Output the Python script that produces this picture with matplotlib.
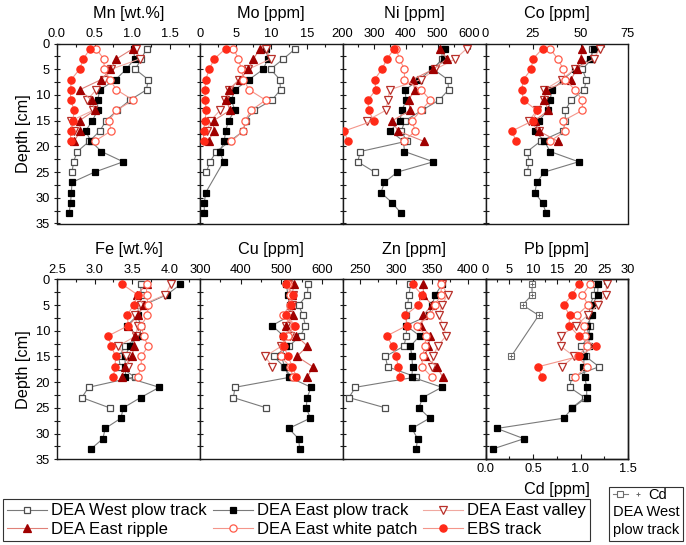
import numpy as np
import matplotlib
matplotlib.use("Agg")
import matplotlib.pyplot as plt
from matplotlib.patches import Rectangle
from matplotlib.legend_handler import HandlerTuple
from matplotlib.ticker import MultipleLocator, FormatStrFormatter

plt.rcParams['font.family'] = ['Liberation Sans', 'DejaVu Sans']

nan = np.nan
depth = [1, 3, 5, 7, 9, 11, 13, 15, 17, 19, 21, 23, 25, 27, 29, 31, 33]

# Mn [wt.%]
mn_west = [1.19, 1.12, 1.04, 1.21, 1.19, 0.97, 0.80, 0.65, 0.57, 0.43, 0.27, 0.22, 0.20]
mn_east = [1.02, 1.03, 0.92, 0.78, 0.57, 0.54, 0.54, 0.47, 0.38, 0.45, 0.59, 0.88, 0.50, 0.20, 0.19, 0.18, 0.16]
mn_valley = [1.05, 1.10, 0.72, 0.62, 0.52, 0.40, 0.48, 0.19, 0.22]
mn_ripple = [1.01, 0.79, 0.71, 0.59, 0.30, 0.46, 0.50, 0.30, 0.31, 0.23]
mn_white = [0.52, 0.62, 0.63, 0.70, 0.79, 1.01, 0.79, 0.69, 0.72, 0.50]
mn_ebs = [0.44, 0.35, 0.30, 0.19, 0.18, 0.18, 0.23, 0.21, 0.18, 0.18]

# Mo [ppm]
mo_west = [13.4, 11.7, 9.9, 11.2, 11.3, 10.1, 7.6, 6.4, 6.1, 4.2, 2.3, 1.4, 0.9]
mo_east = [9.3, 9.5, 8.9, 6.9, 4.9, 4.4, 4.9, 4.0, 3.6, 3.4, 2.8, 3.3, nan, nan, 0.8, 0.6, 0.6]
mo_valley = [9.3, 9.9, 6.8, 5.5, 4.0, 3.5, 2.8, 1.5, 1.0]
mo_ripple = [8.4, 7.5, 6.8, 5.6, 4.1, 3.7, 4.2, 1.9, 1.9, 1.2]
mo_white = [4.7, 5.4, 5.8, 6.1, 6.9, 9.2, 7.2, 6.3, 6.1, 4.4]
mo_ebs = [3.6, 2.0, 1.3, 0.8, 0.7, 0.7, 0.9, 0.7, 0.5, 0.5]

# Ni [ppm]
ni_west = [513, 513, 486, 531, 534, 504, 450, 397, 385, 402, 256, 248, 301]
ni_east = [523, 518, 481, 442, 397, 400, 387, 381, 350, 392, 395, 486, 373, 332, 321, 357, 384]
ni_valley = [591, 555, 492, 448, 348, 343, 336, 277, nan]
ni_ripple = [507, 528, 486, 421, 427, 408, 413, 357, 374, 455]
ni_white = [369, 379, 395, 395, 448, 476, 448, 418, 429, 394]
ni_ebs = [363, 340, 324, 301, 305, 280, 282, 298, 206, 216]

# Co [ppm]
co_west = [56, 56, 51, 53, 52, 45, 42, 42, 41, 29, 22, 23, 22]
co_east = [57, 55, 47, 41, 35, 34, 33, 28, 26, 31, 34, 49, 31, 27, 26, 30, 32]
co_valley = [60, 57, 47, 40, 31, 31, 27, 23, 28]
co_ripple = [51, 50, 48, 45, 32, 31, 33, 26, 28, 38]
co_white = [34, 38, 41, 42, 47, 51, 51, 41, 42, 34]
co_ebs = [30, 25, 24, 20, 19, 20, 27, 25, 14, 16]

# Fe [wt.%]
fe_west = [3.61, 3.62, 3.60, 3.56, 3.62, 3.60, 3.41, 3.32, 3.34, 3.53, 2.92, 2.83, 3.20]
fe_east = [4.14, 3.96, 3.65, 3.57, 3.43, 3.57, 3.47, 3.40, 3.41, 3.41, 3.86, 3.61, 3.38, 3.35, 3.14, 3.11, 2.95]
fe_valley = [4.01, 3.94, 3.62, 3.53, 3.57, 3.55, 3.31, 3.42, 3.45]
fe_ripple = [3.69, 3.56, 3.65, 3.58, 3.45, 3.54, 3.52, 3.50, 3.41, 3.36]
fe_white = [3.69, 3.69, 3.71, 3.70, 3.62, 3.65, 3.71, 3.62, 3.62, 3.57]
fe_ebs = [3.37, 3.57, 3.52, 3.43, 3.45, 3.18, 3.22, 3.28, 3.27, 3.25]

# Cu [ppm]
cu_west = [565, 564, 542, 553, 559, 547, 518, 481, 506, 524, 386, 382, 463]
cu_east = [512, 516, 520, 522, 477, 505, 510, 500, 508, 518, 573, 563, 561, 571, 518, 542, 545]
cu_valley = [515, 528, 525, 518, 512, 520, 500, 460, 478]
cu_ripple = [531, 526, 524, 528, 510, 537, 564, 538, 577, 564]
cu_white = [515, 522, 520, 505, 532, 515, 503, 498, 522, 528]
cu_ebs = [512, 528, 524, 512, 534, 504, 506, 516, 527, 537]

# Zn [ppm]
zn_west = [320, 318, 316, 314, 315, 314, 311, 285, 288, 328, 243, 234, 285]
zn_east = [364, 355, 350, 346, 314, 333, 320, 322, 323, 322, 364, 337, 332, 347, 322, 330, 328]
zn_valley = [364, 372, 364, 360, 366, 370, 358, 352, 350]
zn_ripple = [338, 338, 350, 338, 335, 348, 345, 340, 357, 365]
zn_white = [363, 363, 354, 348, 329, 342, 340, 337, 336, 350]
zn_ebs = [323, 336, 331, 313, 315, 287, 295, 300, 303, 306]

# Pb [ppm]
pb_west = [23.0, 22.9, 22.0, 21.8, 22.0, 21.8, 20.2, 21.1, 23.9, 18.2, 17.7, 20.9, 18.2]
pb_east = [23.7, 23.6, 22.5, 22.5, 21.3, 21.8, 21.8, 20.8, 20.6, 20.9, 21.3, 21.3, 18.3, 16.5, 2.4, 8.1, 1.5]
pb_valley = [25.5, 25.3, 23.6, 21.5, 19.0, 15.8, 15.8, 18.7, 16.1]
pb_ripple = []
pb_white = [22.0, 20.4, 21.6, 19.2, 20.8, 20.9, 21.3, 19.5, 21.3, 18.9]
pb_ebs = [19.6, 18.2, 16.5, 17.7, 17.6, 19.6, 23.2, 19.6, 11.1, 11.8]

# Cd [ppm], DEA West plow track
cd_depth = [1, 3, 5, 7, 15]
cd_west = [0.49, 0.49, 0.39, 0.56, 0.27]

series_names = ["DEA West plow track", "DEA East plow track", "DEA East valley",
                "DEA East ripple", "DEA East white patch", "EBS track"]

styles = [
    dict(marker='s', ms=4.3, mfc='white', mec='#4d4d4d', color='#7a7a7a'),
    dict(marker='s', ms=4.3, mfc='black', mec='black', color='#7a7a7a'),
    dict(marker='v', ms=5.6, mfc='white', mec='#b8302a', color='#f0a8a0'),
    dict(marker='^', ms=5.6, mfc='#a00000', mec='#a00000', color='#e08078'),
    dict(marker='o', ms=5.2, mfc='white', mec='#ff5a48', color='#f4958a'),
    dict(marker='o', ms=5.2, mfc='#ff2a18', mec='#ff2a18', color='#f4958a'),
]

panels = [
    ("Mn [wt.%]", (0, 1.9), [0, 0.5, 1.0, 1.5], 0.25, '%.1f',
     [mn_west, mn_east, mn_valley, mn_ripple, mn_white, mn_ebs]),
    ("Mo [ppm]", (0, 20), [0, 5, 10, 15, 20], 2.5, '%d',
     [mo_west, mo_east, mo_valley, mo_ripple, mo_white, mo_ebs]),
    ("Ni [ppm]", (200, 650), [200, 300, 400, 500, 600], 50, '%d',
     [ni_west, ni_east, ni_valley, ni_ripple, ni_white, ni_ebs]),
    ("Co [ppm]", (0, 75), [0, 25, 50, 75], 12.5, '%d',
     [co_west, co_east, co_valley, co_ripple, co_white, co_ebs]),
    ("Fe [wt.%]", (2.5, 4.4), [2.5, 3.0, 3.5, 4.0], 0.25, '%.1f',
     [fe_west, fe_east, fe_valley, fe_ripple, fe_white, fe_ebs]),
    ("Cu [ppm]", (300, 650), [300, 400, 500, 600], 50, '%d',
     [cu_west, cu_east, cu_valley, cu_ripple, cu_white, cu_ebs]),
    ("Zn [ppm]", (225, 425), [250, 300, 350, 400], 25, '%d',
     [zn_west, zn_east, zn_valley, zn_ripple, zn_white, zn_ebs]),
    ("Pb [ppm]", (0, 30), [0, 5, 10, 15, 20, 25, 30], 2.5, '%d',
     [pb_west, pb_east, pb_valley, pb_ripple, pb_white, pb_ebs]),
]

W, H = 686, 545
fig = plt.figure(figsize=(W / 100, H / 100), dpi=100)

col_edges = [57, 200, 342.5, 485.5, 628]
row_spans = [(43.5, 223.5), (279.3, 459.3)]
spine_col = '#1a1a1a'


def style_top_axis(ax, label, ticks, minor, fmt):
    ax.xaxis.tick_top()
    ax.xaxis.set_label_position('top')
    ax.set_xticks(ticks)
    ax.xaxis.set_minor_locator(MultipleLocator(minor))
    ax.xaxis.set_major_formatter(FormatStrFormatter(fmt))
    ax.set_xlabel(label, fontsize=11.7, labelpad=7)
    ax.tick_params(axis='x', which='both', direction='in', labelsize=9.3, pad=2.5,
                   color=spine_col, width=0.8, top=True, bottom=False,
                   labeltop=True, labelbottom=False)
    ax.tick_params(axis='x', which='major', length=3.5)
    ax.tick_params(axis='x', which='minor', length=2.5)


axes = []
handles = None
for k, (label, xlim, ticks, minor, fmt, data) in enumerate(panels):
    r, c = divmod(k, 4)
    x0, x1 = col_edges[c], col_edges[c + 1]
    yt, yb = row_spans[r]
    ax = fig.add_axes([x0 / W, 1 - yb / H, (x1 - x0) / W, (yb - yt) / H])
    axes.append(ax)
    lines = []
    for i, (vals, st) in enumerate(zip(data, styles)):
        if len(vals) == 0:
            lines.append(None)
            continue
        d = np.array(depth[:len(vals)], float)
        v = np.array(vals, float)
        ok = np.isfinite(v)
        ln, = ax.plot(v[ok], d[ok], lw=0.8, mew=0.9, zorder=2 + i, **st)
        lines.append(ln)
    if k == 0:
        handles = lines
    ax.set_xlim(*xlim)
    ax.set_ylim(35, 0)
    style_top_axis(ax, label, ticks, minor, fmt)
    if label.startswith("Mo"):
        ax.set_xticklabels(['0', '5', '10', '15', ''])
    ax.yaxis.set_major_locator(MultipleLocator(5))
    ax.yaxis.set_minor_locator(MultipleLocator(2.5))
    ax.tick_params(axis='y', which='both', direction='inout', labelsize=9.3, pad=2.5,
                   color=spine_col, width=0.8)
    ax.tick_params(axis='y', which='major', length=5)
    ax.tick_params(axis='y', which='minor', length=4)
    if c != 0:
        ax.tick_params(axis='y', labelleft=False)
    else:
        ax.set_ylabel("Depth [cm]", fontsize=11.7, labelpad=3)
    for sp in ax.spines.values():
        sp.set_color(spine_col)
        sp.set_linewidth(1.0)

# Cd on a secondary bottom axis of the Pb panel
ax_pb = axes[7]
ax_cd = ax_pb.twiny()
# twiny moves the Pb ticks to the bottom, put them back on top
style_top_axis(ax_pb, "Pb [ppm]", [0, 5, 10, 15, 20, 25, 30], 2.5, '%d')
ax_cd.set_xlim(0, 1.5)
ax_cd.xaxis.tick_bottom()
ax_cd.xaxis.set_label_position('bottom')
ax_cd.set_xticks([0, 0.5, 1.0, 1.5])
ax_cd.xaxis.set_minor_locator(MultipleLocator(0.25))
ax_cd.xaxis.set_major_formatter(FormatStrFormatter('%.1f'))
ax_cd.tick_params(axis='x', which='both', direction='in', labelsize=9.3, pad=3,
                  color=spine_col, width=0.8, top=False, bottom=True,
                  labeltop=False, labelbottom=True)
ax_cd.tick_params(axis='x', which='major', length=3.5)
ax_cd.tick_params(axis='x', which='minor', length=2.5)
ax_cd.set_xlabel("Cd [ppm]", fontsize=11.7, labelpad=5)
for sp in ax_cd.spines.values():
    sp.set_color(spine_col)
    sp.set_linewidth(1.0)
cd_box, = ax_cd.plot(cd_west, cd_depth, marker='s', ms=3.8, mfc='white', mec='#6a6a6a',
                     color='#7a7a7a', lw=0.8, mew=0.8)
cd_plus, = ax_cd.plot(cd_west, cd_depth, marker='+', ms=3.2, mec='#6a6a6a', lw=0,
                      mew=0.7)
ax_cd.set_ylim(35, 0)

# main legend (row-wise order -> column-major list)
order = [0, 3, 1, 4, 2, 5]
leg = fig.legend([handles[i] for i in order], [series_names[i] for i in order],
                 ncol=3, loc='lower left', bbox_to_anchor=(3 / W, 4 / H),
                 fontsize=12, handlelength=2.4, handletextpad=0.25,
                 columnspacing=0.35, borderpad=0.25, labelspacing=0.2,
                 fancybox=False, framealpha=1, edgecolor='#333333',
                 borderaxespad=0)
leg.get_frame().set_linewidth(0.8)

# Cd legend box
fig.add_artist(Rectangle((609 / W, 1 - 541 / H), 74 / W, 54 / H,
                         transform=fig.transFigure, fill=False,
                         edgecolor='#333333', lw=0.8))
leg2 = fig.legend([(cd_box, cd_plus)], ["Cd"], loc='upper left',
                  bbox_to_anchor=(610 / W, 1 - 485 / H), frameon=False,
                  fontsize=10.5, handlelength=2.2, handletextpad=0.25,
                  borderpad=0.2, borderaxespad=0,
                  handler_map={tuple: HandlerTuple(ndivide=None)})
fig.text(613 / W, 1 - 512 / H, "DEA West", fontsize=10.5, va='center', ha='left')
fig.text(613 / W, 1 - 530 / H, "plow track", fontsize=10.5, va='center', ha='left')

fig.savefig("out.png", dpi=100)
